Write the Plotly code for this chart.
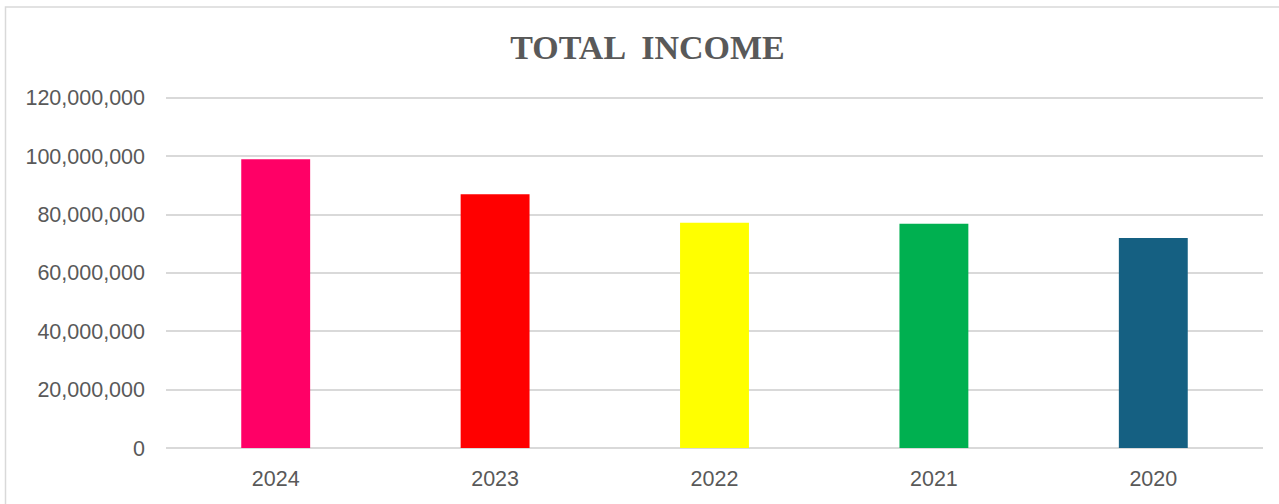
import plotly.graph_objects as go

years = ["2024", "2023", "2022", "2021", "2020"]
income = [99_000_000, 87_000_000, 77_200_000, 76_900_000, 72_000_000]
bar_colors = ["#FF0066", "#FF0000", "#FFFF00", "#00B050", "#156082"]
y_ticks = [0, 20_000_000, 40_000_000, 60_000_000, 80_000_000, 100_000_000, 120_000_000]
y_tick_labels = ["0", "20,000,000", "40,000,000", "60,000,000", "80,000,000", "100,000,000", "120,000,000"]
y_max = 121_000_000

fig = go.Figure(go.Bar(x=years, y=income, marker=dict(color=bar_colors, line=dict(width=0)),
                       hoverinfo="x+y"))

W, H = 1279, 504
px_per_unit = 350.8 / 120_000_000
L, R, B = 166, 16, 55.5
T = H - B - y_max * px_per_unit
pw, ph = W - L - R, H - T - B

def px_x(p):
    return (p - L) / pw

def px_y(p):
    return (H - B - p) / ph

fig.update_layout(
    width=W, height=H,
    margin=dict(l=L, r=R, t=T, b=B, pad=0),
    paper_bgcolor="white", plot_bgcolor="white",
    bargap=0.686,
    showlegend=False,
    title=dict(text="<b>TOTAL  INCOME</b>", xref="container", x=647.5 / W, xanchor="center",
               yref="container", y=1 - 47 / H, yanchor="middle",
               font=dict(family="Liberation Serif", size=34, color="#595959")),
    font=dict(family="Liberation Sans", color="#595959"),
    xaxis=dict(showgrid=False, showline=False, zeroline=False, ticks="",
               tickfont=dict(size=21.5, color="#595959"), ticklabelstandoff=15),
    yaxis=dict(range=[0, y_max], tickvals=y_ticks, ticktext=y_tick_labels,
               showgrid=True, gridcolor="#d9d9d9", gridwidth=2,
               zeroline=True, zerolinecolor="#d9d9d9", zerolinewidth=2,
               showline=False, ticks="", tickfont=dict(size=21.5, color="#595959"),
               ticklabelstandoff=20),
    shapes=[dict(type="rect", xref="paper", yref="paper",
                 x0=px_x(5.5), x1=px_x(1300), y0=px_y(530), y1=px_y(6.5),
                 line=dict(color="#d9d9d9", width=1.5), fillcolor="rgba(0,0,0,0)", layer="below")],
)

fig.write_html("out.html")
